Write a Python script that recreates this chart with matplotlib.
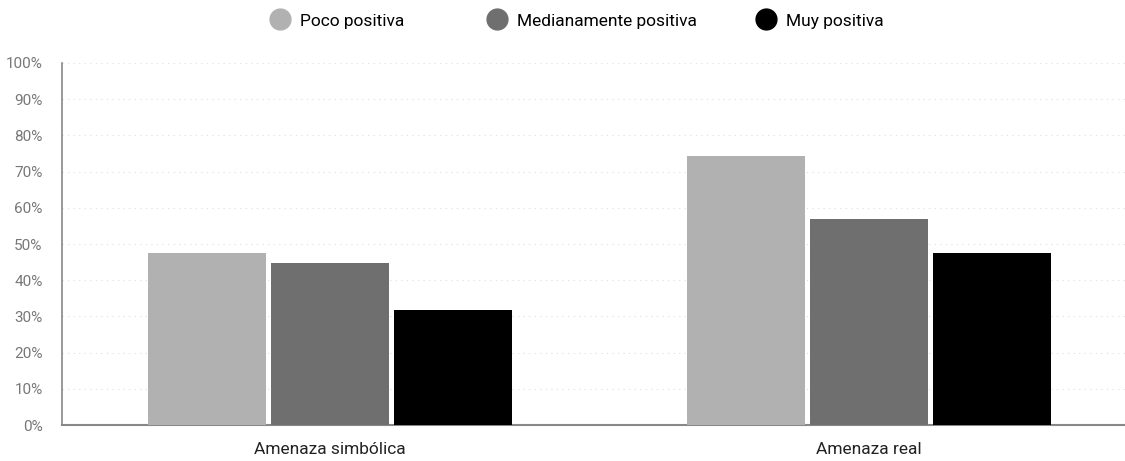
import numpy as np
import matplotlib
matplotlib.use('Agg')
import matplotlib.pyplot as plt
from matplotlib.lines import Line2D
from matplotlib.ticker import FuncFormatter

plt.rcParams['font.family'] = ['Roboto', 'DejaVu Sans']

categories = ['Amenaza simbólica', 'Amenaza real']
series_names = ['Poco positiva', 'Medianamente positiva', 'Muy positiva']
poco = [47.5, 74.3]
medianamente = [44.8, 56.9]
muy = [31.8, 47.5]
colors = ['#b1b1b1', '#6f6f6f', '#000000']

W, H = 1125, 461
fig = plt.figure(figsize=(W / 100, H / 100), dpi=100)
ax = fig.add_axes([62 / W, (H - 425) / H, (W - 62) / W, 362 / H])

x = np.arange(len(categories))
width = 0.219
step = 0.228
for i, (vals, col) in enumerate(zip([poco, medianamente, muy], colors)):
    ax.bar(x + (i - 1) * step, vals, width, color=col, zorder=3)

ax.set_xlim(-0.497, 1.475)
ax.set_ylim(0, 100)
ax.set_yticks(np.arange(0, 101, 10))
ax.yaxis.set_major_formatter(FuncFormatter(lambda v, p: f'{int(v)}%'))
ax.set_xticks(x)
ax.set_xticklabels(categories, fontsize=12.5, color='#222222')
ax.tick_params(axis='y', length=0, pad=14, labelsize=11, labelcolor='#777777')
ax.tick_params(axis='x', length=0, pad=12)

ax.grid(axis='y', color='#dddddd', linestyle=(0, (1, 4)), linewidth=0.8, zorder=0)
for s in ['top', 'right']:
    ax.spines[s].set_visible(False)
ax.spines['left'].set_color('#888888')
ax.spines['bottom'].set_color('#888888')
ax.spines['left'].set_linewidth(1.2)
ax.spines['bottom'].set_linewidth(1.5)

# legend entries placed one by one (marker centre x in pixels)
legend_x = [284, 501, 770]
for name, col, px in zip(series_names, colors, legend_x):
    h = Line2D([], [], marker='o', linestyle='', markersize=15, color=col)
    fig.legend([h], [name], loc='center left', bbox_to_anchor=((px - 14) / W, 1 - 21 / H),
               frameon=False, fontsize=12.5, handlelength=1.1, handletextpad=0.65,
               borderpad=0, borderaxespad=0)

fig.savefig('out.png', dpi=100)
